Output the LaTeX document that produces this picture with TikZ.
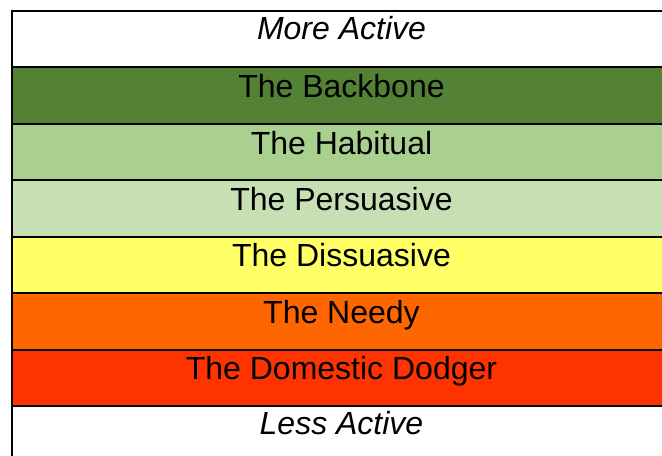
\documentclass[tikz,border=0pt]{standalone}
\usepackage{fontspec}
\setmainfont{Liberation Sans}
\definecolor{cBack}{HTML}{548235}
\definecolor{cHab}{HTML}{A9D08E}
\definecolor{cPers}{HTML}{C6E0B4}
\definecolor{cDiss}{HTML}{FFFF66}
\definecolor{cNeedy}{HTML}{FF6600}
\definecolor{cDodge}{HTML}{FF3300}
\tikzset{
  cell/.style={draw=black, line width=1.5pt, rectangle, anchor=north west,
    minimum width=659*0.75pt, minimum height=56.43*0.75pt, inner sep=0pt, outer sep=0pt},
  lbl/.style={anchor=base, inner sep=0pt, font=\fontsize{24pt}{26pt}\selectfont},
  ilbl/.style={lbl, font=\fontsize{24pt}{26pt}\selectfont\itshape}
}
\begin{document}
\begin{tikzpicture}[x=0.75pt, y=-0.75pt]
\useasboundingbox (0,0) rectangle (662,456);
\clip (0,0) rectangle (662,456);
\fill[white] (0,0) rectangle (662,456);
\node[cell, fill=white]  (c0) at (12,11) {};
\node[cell, fill=cBack]  (c1) at (12,67.43) {};
\node[cell, fill=cHab]   (c2) at (12,123.86) {};
\node[cell, fill=cPers]  (c3) at (12,180.29) {};
\node[cell, fill=cDiss]  (c4) at (12,236.71) {};
\node[cell, fill=cNeedy] (c5) at (12,293.14) {};
\node[cell, fill=cDodge] (c6) at (12,349.57) {};
\node[cell, fill=white]  (c7) at (12,406) {};
\node[ilbl] (t0) at ([yshift=-28.6*0.75pt]c0.north) {More Active};
\node[lbl]  (t1) at ([yshift=-30.2*0.75pt]c1.north) {The Backbone};
\node[lbl]  (t2) at ([yshift=-30.2*0.75pt]c2.north) {The Habitual};
\node[lbl]  (t3) at ([yshift=-30.2*0.75pt]c3.north) {The Persuasive};
\node[lbl]  (t4) at ([yshift=-30.2*0.75pt]c4.north) {The Dissuasive};
\node[lbl]  (t5) at ([yshift=-30.2*0.75pt]c5.north) {The Needy};
\node[lbl]  (t6) at ([yshift=-30.2*0.75pt]c6.north) {The Domestic Dodger};
\node[ilbl] (t7) at ([yshift=-28.6*0.75pt]c7.north) {Less Active};
\end{tikzpicture}
\end{document}
